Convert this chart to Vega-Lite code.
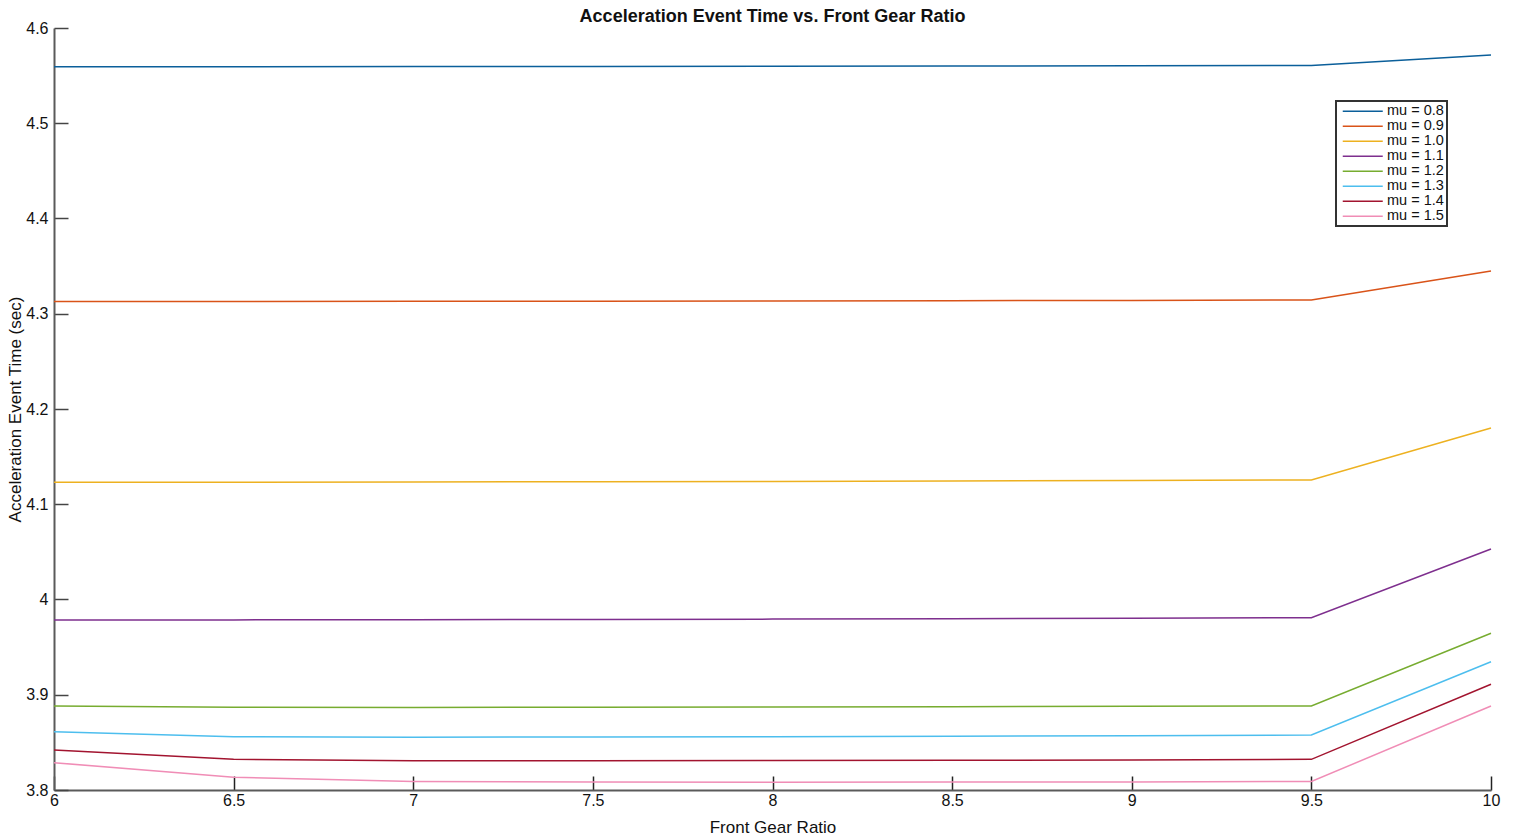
{
  "$schema": "https://vega.github.io/schema/vega-lite/v6.json",
  "autosize": {"type": "none"},
  "width": 1437,
  "height": 762,
  "padding": {"left": 54, "top": 28, "right": 26, "bottom": 50},
  "background": "white",
  "title": {
    "text": "Acceleration Event Time vs. Front Gear Ratio",
    "font": "Liberation Sans",
    "fontSize": 18,
    "fontWeight": "bold",
    "color": "#111",
    "anchor": "middle",
    "frame": "group",
    "baseline": "bottom",
    "offset": -24
  },
  "config": {
    "view": {"stroke": null},
    "font": "Liberation Sans",
    "legend": {"strokeWidth": 2}
  },
  "data": {
    "values": [
      {"ratio": 6.0, "mu": "mu = 0.8", "time": 4.5594},
      {"ratio": 6.5, "mu": "mu = 0.8", "time": 4.5594},
      {"ratio": 7.0, "mu": "mu = 0.8", "time": 4.5595},
      {"ratio": 7.5, "mu": "mu = 0.8", "time": 4.5597},
      {"ratio": 8.0, "mu": "mu = 0.8", "time": 4.5599},
      {"ratio": 8.5, "mu": "mu = 0.8", "time": 4.5601},
      {"ratio": 9.0, "mu": "mu = 0.8", "time": 4.5604},
      {"ratio": 9.5, "mu": "mu = 0.8", "time": 4.5607},
      {"ratio": 10.0, "mu": "mu = 0.8", "time": 4.5717},

      {"ratio": 6.0, "mu": "mu = 0.9", "time": 4.3128},
      {"ratio": 6.5, "mu": "mu = 0.9", "time": 4.3128},
      {"ratio": 7.0, "mu": "mu = 0.9", "time": 4.3130},
      {"ratio": 7.5, "mu": "mu = 0.9", "time": 4.3132},
      {"ratio": 8.0, "mu": "mu = 0.9", "time": 4.3135},
      {"ratio": 8.5, "mu": "mu = 0.9", "time": 4.3137},
      {"ratio": 9.0, "mu": "mu = 0.9", "time": 4.3140},
      {"ratio": 9.5, "mu": "mu = 0.9", "time": 4.3144},
      {"ratio": 10.0, "mu": "mu = 0.9", "time": 4.3449},

      {"ratio": 6.0, "mu": "mu = 1.0", "time": 4.1231},
      {"ratio": 6.5, "mu": "mu = 1.0", "time": 4.1232},
      {"ratio": 7.0, "mu": "mu = 1.0", "time": 4.1234},
      {"ratio": 7.5, "mu": "mu = 1.0", "time": 4.1237},
      {"ratio": 8.0, "mu": "mu = 1.0", "time": 4.1240},
      {"ratio": 8.5, "mu": "mu = 1.0", "time": 4.1244},
      {"ratio": 9.0, "mu": "mu = 1.0", "time": 4.1249},
      {"ratio": 9.5, "mu": "mu = 1.0", "time": 4.1255},
      {"ratio": 10.0, "mu": "mu = 1.0", "time": 4.1801},

      {"ratio": 6.0, "mu": "mu = 1.1", "time": 3.9786},
      {"ratio": 6.5, "mu": "mu = 1.1", "time": 3.9786},
      {"ratio": 7.0, "mu": "mu = 1.1", "time": 3.9788},
      {"ratio": 7.5, "mu": "mu = 1.1", "time": 3.9791},
      {"ratio": 8.0, "mu": "mu = 1.1", "time": 3.9794},
      {"ratio": 8.5, "mu": "mu = 1.1", "time": 3.9798},
      {"ratio": 9.0, "mu": "mu = 1.1", "time": 3.9803},
      {"ratio": 9.5, "mu": "mu = 1.1", "time": 3.9809},
      {"ratio": 10.0, "mu": "mu = 1.1", "time": 4.0530},

      {"ratio": 6.0, "mu": "mu = 1.2", "time": 3.8882},
      {"ratio": 6.5, "mu": "mu = 1.2", "time": 3.8868},
      {"ratio": 7.0, "mu": "mu = 1.2", "time": 3.8867},
      {"ratio": 7.5, "mu": "mu = 1.2", "time": 3.8869},
      {"ratio": 8.0, "mu": "mu = 1.2", "time": 3.8872},
      {"ratio": 8.5, "mu": "mu = 1.2", "time": 3.8875},
      {"ratio": 9.0, "mu": "mu = 1.2", "time": 3.8878},
      {"ratio": 9.5, "mu": "mu = 1.2", "time": 3.8882},
      {"ratio": 10.0, "mu": "mu = 1.2", "time": 3.9645},

      {"ratio": 6.0, "mu": "mu = 1.3", "time": 3.8612},
      {"ratio": 6.5, "mu": "mu = 1.3", "time": 3.8560},
      {"ratio": 7.0, "mu": "mu = 1.3", "time": 3.8555},
      {"ratio": 7.5, "mu": "mu = 1.3", "time": 3.8557},
      {"ratio": 8.0, "mu": "mu = 1.3", "time": 3.8560},
      {"ratio": 8.5, "mu": "mu = 1.3", "time": 3.8564},
      {"ratio": 9.0, "mu": "mu = 1.3", "time": 3.8570},
      {"ratio": 9.5, "mu": "mu = 1.3", "time": 3.8577},
      {"ratio": 10.0, "mu": "mu = 1.3", "time": 3.9347},

      {"ratio": 6.0, "mu": "mu = 1.4", "time": 3.8420},
      {"ratio": 6.5, "mu": "mu = 1.4", "time": 3.8322},
      {"ratio": 7.0, "mu": "mu = 1.4", "time": 3.8307},
      {"ratio": 7.5, "mu": "mu = 1.4", "time": 3.8307},
      {"ratio": 8.0, "mu": "mu = 1.4", "time": 3.8309},
      {"ratio": 8.5, "mu": "mu = 1.4", "time": 3.8312},
      {"ratio": 9.0, "mu": "mu = 1.4", "time": 3.8316},
      {"ratio": 9.5, "mu": "mu = 1.4", "time": 3.8322},
      {"ratio": 10.0, "mu": "mu = 1.4", "time": 3.9110},

      {"ratio": 6.0, "mu": "mu = 1.5", "time": 3.8287},
      {"ratio": 6.5, "mu": "mu = 1.5", "time": 3.8133},
      {"ratio": 7.0, "mu": "mu = 1.5", "time": 3.8090},
      {"ratio": 7.5, "mu": "mu = 1.5", "time": 3.8083},
      {"ratio": 8.0, "mu": "mu = 1.5", "time": 3.8082},
      {"ratio": 8.5, "mu": "mu = 1.5", "time": 3.8083},
      {"ratio": 9.0, "mu": "mu = 1.5", "time": 3.8085},
      {"ratio": 9.5, "mu": "mu = 1.5", "time": 3.8089},
      {"ratio": 10.0, "mu": "mu = 1.5", "time": 3.8882}
    ]
  },
  "mark": {"type": "line", "strokeWidth": 1.5, "clip": false},
  "encoding": {
    "x": {
      "field": "ratio",
      "type": "quantitative",
      "scale": {"domain": [6, 10], "nice": false, "zero": false},
      "axis": {
        "title": "Front Gear Ratio",
        "values": [6, 6.5, 7, 7.5, 8, 8.5, 9, 9.5, 10],
        "format": "~g",
        "grid": false,
        "domainColor": "#5a5a5a",
        "domainWidth": 2,
        "tickColor": "#222",
        "tickWidth": 1.5,
        "tickSize": -14,
        "labelPadding": 16,
        "labelFont": "Liberation Sans",
        "labelFontSize": 16,
        "labelColor": "#111",
        "labelFlush": false,
        "labelOverlap": false,
        "titleFont": "Liberation Sans",
        "titleFontSize": 17,
        "titleFontWeight": "normal",
        "titleColor": "#111",
        "titleBaseline": "alphabetic",
        "titleX": 718.5,
        "titleY": 42
      }
    },
    "y": {
      "field": "time",
      "type": "quantitative",
      "scale": {"domain": [3.8, 4.6], "nice": false, "zero": false},
      "axis": {
        "title": "Acceleration Event Time (sec)",
        "values": [3.8, 3.9, 4.0, 4.1, 4.2, 4.3, 4.4, 4.5, 4.6],
        "format": "~g",
        "grid": false,
        "domainColor": "#5a5a5a",
        "domainWidth": 2,
        "tickColor": "#444",
        "tickWidth": 1.5,
        "tickSize": -14,
        "labelPadding": 20,
        "labelFont": "Liberation Sans",
        "labelFontSize": 16,
        "labelColor": "#111",
        "labelFlush": false,
        "labelOverlap": false,
        "titleFont": "Liberation Sans",
        "titleFontSize": 17,
        "titleFontWeight": "normal",
        "titleColor": "#111",
        "titleAngle": 270,
        "titleAlign": "center",
        "titleBaseline": "alphabetic",
        "titleX": -34,
        "titleY": 381
      }
    },
    "color": {
      "field": "mu",
      "type": "nominal",
      "scale": {
        "domain": ["mu = 0.8", "mu = 0.9", "mu = 1.0", "mu = 1.1", "mu = 1.2", "mu = 1.3", "mu = 1.4", "mu = 1.5"],
        "range": ["#0b5f9a", "#D95319", "#EDB120", "#7E2F8E", "#77AC30", "#4DBEEE", "#A2142F", "#F08DB6"]
      },
      "legend": {
        "title": null,
        "orient": "none",
        "legendX": 1282,
        "legendY": 73,
        "padding": 3,
        "strokeColor": "#333",
        "fillColor": "white",
        "symbolType": "M-5,0H5",
        "symbolSize": 64,
        "symbolStrokeWidth": 1.5,
        "symbolOffset": 16.5,
        "labelOffset": 17,
        "labelFont": "Liberation Sans",
        "labelFontSize": 14.5,
        "labelColor": "#111",
        "rowPadding": 0
      }
    }
  }
}
